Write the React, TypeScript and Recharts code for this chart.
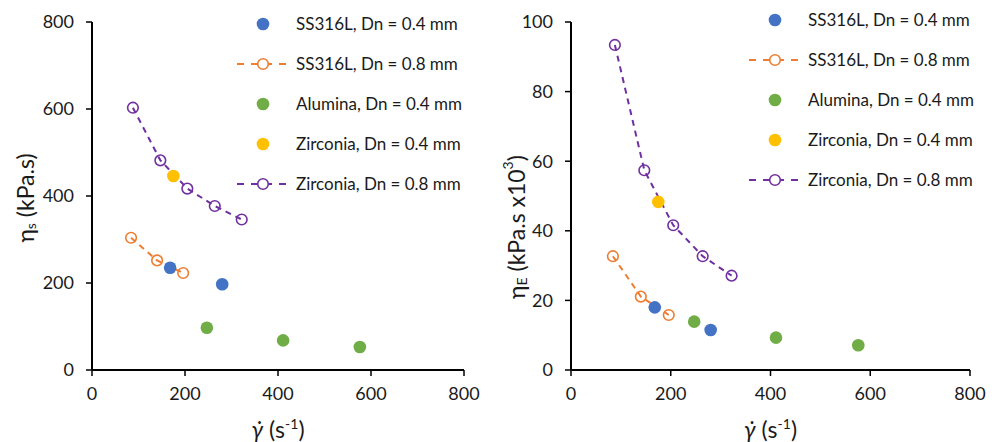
import { ScatterChart, Scatter, XAxis, YAxis, Label } from 'recharts';

// shear rate (s^-1) per series, shared by both panels
const SHEAR_SS04 = [168, 280];
const SHEAR_SS08 = [84, 140, 196];
const SHEAR_AL04 = [247, 411, 576];
const SHEAR_ZR04 = [175];
const SHEAR_ZR08 = [88, 147, 205, 264, 322];

// shear viscosity, kPa.s
const ETA_S_SS04 = [235, 197];
const ETA_S_SS08 = [304, 252, 223];
const ETA_S_AL04 = [97, 68, 53];
const ETA_S_ZR04 = [446];
const ETA_S_ZR08 = [603, 482, 417, 377, 346];

// extensional viscosity, kPa.s x10^3
const ETA_E_SS04 = [18.0, 11.5];
const ETA_E_SS08 = [32.7, 21.1, 15.8];
const ETA_E_AL04 = [13.9, 9.3, 7.1];
const ETA_E_ZR04 = [48.3];
const ETA_E_ZR08 = [93.4, 57.4, 41.6, 32.7, 27.1];

const X_TICKS = [0, 200, 400, 600, 800];
const ETA_S_TICKS = [0, 200, 400, 600, 800];
const ETA_E_TICKS = [0, 20, 40, 60, 80, 100];

const SERIES = [
  { name: 'SS316L, Dn = 0.4 mm', color: '#4472C4', filled: true, dashed: false },
  { name: 'SS316L, Dn = 0.8 mm', color: '#ED7D31', filled: false, dashed: true },
  { name: 'Alumina, Dn = 0.4 mm', color: '#70AD47', filled: true, dashed: false },
  { name: 'Zirconia, Dn = 0.4 mm', color: '#FFC000', filled: true, dashed: false },
  { name: 'Zirconia, Dn = 0.8 mm', color: '#7030A0', filled: false, dashed: true },
];

const SHEAR = [SHEAR_SS04, SHEAR_SS08, SHEAR_AL04, SHEAR_ZR04, SHEAR_ZR08];
const ETA_S = [ETA_S_SS04, ETA_S_SS08, ETA_S_AL04, ETA_S_ZR04, ETA_S_ZR08];
const ETA_E = [ETA_E_SS04, ETA_E_SS08, ETA_E_AL04, ETA_E_ZR04, ETA_E_ZR08];

// dashed series go underneath so the solid dots sit on top of their lines
const DRAW_ORDER = [1, 4, 0, 2, 3];

const FONT = 'Lato, "Open Sans", sans-serif';
const TEXT = '#1a1a1a';

const toPoints = (xs: number[], ys: number[]) => xs.map((x, i) => ({ x, y: ys[i] }));

const marker = (color: string, filled: boolean) => (p: any) => (
  <circle
    cx={p.cx}
    cy={p.cy}
    r={filled ? 6.3 : 5.3}
    fill={filled ? color : 'none'}
    stroke={color}
    strokeWidth={filled ? 0 : 1.6}
  />
);

function LegendBox({ left, top, markerX, textX }: any) {
  return (
    <div style={{ position: 'absolute', left, top, pointerEvents: 'none' }}>
      {SERIES.map((s) => (
        <div key={s.name} style={{ position: 'relative', height: 40 }}>
          <svg width={80} height={20} style={{ position: 'absolute', left: 0, top: -10 }}>
            {s.dashed && (
              <line x1={2} x2={54} y1={10} y2={10} stroke={s.color} strokeWidth={2} strokeDasharray="7 7" />
            )}
            <circle
              cx={markerX}
              cy={10}
              r={s.filled ? 6.3 : 5.3}
              fill={s.filled ? s.color : '#fff'}
              stroke={s.color}
              strokeWidth={s.filled ? 0 : 1.6}
            />
          </svg>
          <span
            style={{
              position: 'absolute',
              left: textX,
              top: -11,
              lineHeight: '22px',
              fontSize: 17,
              color: TEXT,
              whiteSpace: 'nowrap',
            }}
          >
            {s.name}
          </span>
        </div>
      ))}
    </div>
  );
}

function XTitle(props: any) {
  const { viewBox } = props;
  const cx = viewBox.x + viewBox.width / 2;
  return (
    <text x={cx} y={438} textAnchor="middle" fontSize={23} fill={TEXT} fontFamily={FONT}>
      <tspan fontStyle="italic">γ̇</tspan>
      <tspan> (s</tspan>
      <tspan dy={-9} fontSize={14}>-1</tspan>
      <tspan dy={9}>)</tspan>
    </text>
  );
}

function Panel({ width, plotRight, yWidth, yTicks, values, title, legend }: any) {
  const axisLine = { stroke: '#000', strokeWidth: 2 };
  const tickLine = { stroke: '#000', strokeWidth: 1.5 };
  const tick = { fill: TEXT, fontSize: 18, fontFamily: FONT };
  return (
    <div style={{ position: 'relative', width, height: 442 }}>
      <ScatterChart width={width} height={442} margin={{ top: 22, right: plotRight, bottom: 0, left: 0 }}>
        <XAxis
          type="number"
          dataKey="x"
          domain={[0, 800]}
          ticks={X_TICKS}
          interval={0}
          height={72}
          tickSize={6}
          tickMargin={11}
          axisLine={axisLine}
          tickLine={tickLine}
          tick={tick}
        >
          <Label content={XTitle} />
        </XAxis>
        <YAxis
          type="number"
          dataKey="y"
          domain={[yTicks[0], yTicks[yTicks.length - 1]]}
          ticks={yTicks}
          interval={0}
          width={yWidth}
          tickSize={6}
          tickMargin={12}
          axisLine={axisLine}
          tickLine={tickLine}
          tick={tick}
        >
          <Label content={title} />
        </YAxis>
        {DRAW_ORDER.map((i) => {
          const s = SERIES[i];
          return (
            <Scatter
              key={s.name}
              name={s.name}
              data={toPoints(SHEAR[i], values[i])}
              isAnimationActive={false}
              shape={marker(s.color, s.filled)}
              line={s.dashed ? { stroke: s.color, strokeWidth: 2, strokeDasharray: '6 5' } : false}
              lineType="joint"
              lineJointType="linear"
            />
          );
        })}
      </ScatterChart>
      <LegendBox {...legend} />
    </div>
  );
}

function ShearTitle(props: any) {
  const { viewBox } = props;
  const cx = 25;
  const cy = viewBox.y + viewBox.height / 2 + 2;
  return (
    <text
      x={cx}
      y={cy}
      transform={`rotate(-90 ${cx} ${cy})`}
      textAnchor="middle"
      dominantBaseline="central"
      fontSize={23}
      fill={TEXT}
      fontFamily={FONT}
    >
      η<tspan dy={5} fontSize={14}>s</tspan>
      <tspan dy={-5}> (kPa.s)</tspan>
    </text>
  );
}

function ExtTitle(props: any) {
  const { viewBox } = props;
  const cx = 16;
  const cy = viewBox.y + viewBox.height / 2 + 31;
  return (
    <text
      x={cx}
      y={cy}
      transform={`rotate(-90 ${cx} ${cy})`}
      textAnchor="middle"
      dominantBaseline="central"
      fontSize={23}
      fill={TEXT}
      fontFamily={FONT}
    >
      η<tspan dy={5} fontSize={14}>E</tspan>
      <tspan dy={-5}> (kPa.s x10</tspan>
      <tspan dy={-9} fontSize={14}>3</tspan>
      <tspan dy={9}>)</tspan>
    </text>
  );
}

export default function App() {
  return (
    <div
      style={{
        position: 'absolute',
        left: 0,
        top: 0,
        width: 999,
        height: 442,
        background: '#fff',
        display: 'flex',
        fontFamily: FONT,
      }}
    >
      <Panel
        width={500}
        plotRight={36}
        yWidth={92}
        yTicks={ETA_S_TICKS}
        values={ETA_S}
        title={ShearTitle}
        legend={{ left: 235, top: 24, markerX: 28, textX: 61 }}
      />
      <Panel
        width={499}
        plotRight={29}
        yWidth={71}
        yTicks={ETA_E_TICKS}
        values={ETA_E}
        title={ExtTitle}
        legend={{ left: 247, top: 20, markerX: 28, textX: 61 }}
      />
    </div>
  );
}
